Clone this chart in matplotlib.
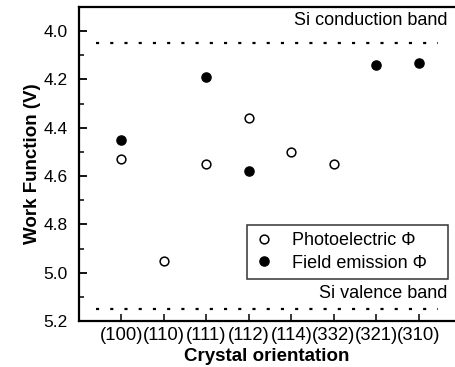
import matplotlib
matplotlib.use("Agg")
import matplotlib.pyplot as plt
from matplotlib.ticker import MultipleLocator, FormatStrFormatter

plt.rcParams['font.family'] = ['Liberation Sans', 'DejaVu Sans']

orientations = ["(100)", "(110)", "(111)", "(112)", "(114)", "(332)", "(321)", "(310)"]

photo_idx = [0, 1, 2, 3, 4, 5]
photo_phi = [4.53, 4.95, 4.55, 4.36, 4.50, 4.55]

field_idx = [0, 2, 3, 6, 7]
field_phi = [4.45, 4.19, 4.58, 4.14, 4.13]

conduction_band = 4.05
valence_band = 5.15

fig = plt.figure(figsize=(4.55, 3.67), dpi=100)
ax = fig.add_axes([79/455, (367-321)/367, (455-79)/455, (321-7)/367])

x_photo = [i + 1 for i in photo_idx]
x_field = [i + 1 for i in field_idx]

ax.plot(x_photo, photo_phi, linestyle='none', marker='o', markersize=6.3,
        markerfacecolor='white', markeredgecolor='black', markeredgewidth=1.1,
        label='Photoelectric Φ')
ax.plot(x_field, field_phi, linestyle='none', marker='o', markersize=6.6,
        markerfacecolor='black', markeredgecolor='black',
        label='Field emission Φ')

ax.hlines([conduction_band, valence_band], 0.4, 8.45, colors='black',
          linestyles=(0, (1.4, 5.0)), linewidth=1.6)

ax.text(8.68, 3.955, 'Si conduction band', ha='right', va='center', fontsize=13)
ax.text(8.68, 5.085, 'Si valence band', ha='right', va='center', fontsize=13)

ax.set_xlim(0, 8.85)
ax.set_ylim(5.2, 3.9)
ax.set_xticks(range(1, len(orientations) + 1))
ax.set_xticklabels(orientations)
ax.yaxis.set_major_locator(MultipleLocator(0.2))
ax.yaxis.set_minor_locator(MultipleLocator(0.1))
ax.yaxis.set_major_formatter(FormatStrFormatter('%.1f'))
ax.tick_params(axis='y', which='major', direction='in', length=6, width=1.3,
               labelsize=12.5, pad=8)
ax.tick_params(axis='y', which='minor', direction='in', length=3.5, width=1.1)
ax.tick_params(axis='x', which='major', direction='in', length=5, width=1.1,
               labelsize=13.3, pad=4.5)

for side in ['left', 'bottom', 'top']:
    ax.spines[side].set_linewidth(1.6)
ax.spines['right'].set_visible(False)

ax.set_xlabel('Crystal orientation', fontsize=13.5, fontweight='bold', labelpad=3)
ax.set_ylabel('Work Function (V)', fontsize=13.5, fontweight='bold', labelpad=2)

leg = ax.legend(loc='lower left', bbox_to_anchor=(0.447, 0.134, 0.534, 0.178),
                mode='expand', borderaxespad=0,
                fontsize=13, frameon=True, fancybox=False, edgecolor='black',
                handletextpad=1.0, borderpad=0.4, labelspacing=0.3, handlelength=1.1)
leg.get_frame().set_linewidth(1.1)

fig.savefig('out.png', dpi=100)
